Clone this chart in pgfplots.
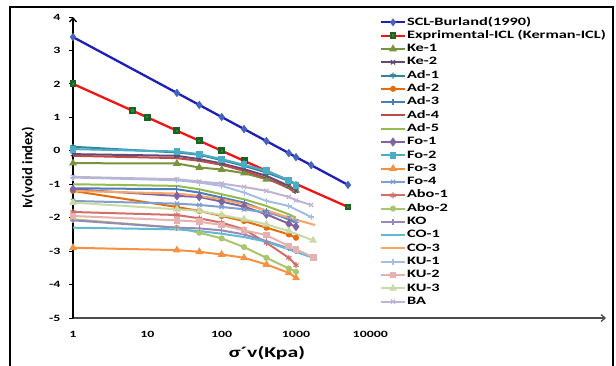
\documentclass[border=0pt]{standalone}
\usepackage{fontspec}
\setmainfont{Carlito}[FakeStretch=1.45]
\newfontfamily\ylabfont{Carlito}
\usepackage{pgfplots}
\pgfplotsset{compat=1.18}
\usetikzlibrary{arrows.meta}
\definecolor{cSCL}{RGB}{30,30,185}
\definecolor{cSCLm}{RGB}{70,100,190}
\definecolor{cEXP}{RGB}{240,20,20}
\definecolor{cEXPm}{RGB}{40,140,50}
\definecolor{cKe1}{RGB}{119,147,60}
\definecolor{cKe2}{RGB}{96,74,123}
\definecolor{cAd1}{RGB}{49,133,156}
\definecolor{cAd2}{RGB}{228,108,10}
\definecolor{cAd3}{RGB}{74,126,187}
\definecolor{cAd4}{RGB}{190,75,72}
\definecolor{cAd5}{RGB}{150,185,80}
\definecolor{cFo1}{RGB}{128,100,162}
\definecolor{cFo2}{RGB}{75,172,198}
\definecolor{cFo3}{RGB}{245,145,65}
\definecolor{cFo4}{RGB}{126,159,207}
\definecolor{cAbo1}{RGB}{210,110,105}
\definecolor{cAbo2}{RGB}{168,198,110}
\definecolor{cKO}{RGB}{155,135,185}
\definecolor{cCO1}{RGB}{95,187,211}
\definecolor{cCO3}{RGB}{249,165,102}
\definecolor{cKU1}{RGB}{165,189,224}
\definecolor{cKU2}{RGB}{230,177,175}
\definecolor{cKU3}{RGB}{201,218,166}
\definecolor{cBA}{RGB}{191,179,212}
\begin{document}
\begin{tikzpicture}[x=1bp,y=1bp]
\useasboundingbox (0,0) rectangle (616,365);
\draw[line width=1.8bp] (10,-5) -- (10,358) -- (613,358) -- (613,-5);
\begin{axis}[
  at={(73bp,47bp)}, anchor=south west, scale only axis,
  width=533bp, height=301bp,
  xmode=log, log basis x=10, xmin=1, xmax=1.48e7, ymin=-5, ymax=4,
  axis lines=left,
  axis line style={line width=1.3bp, -{Straight Barb[length=4bp,width=7bp]}},
  x axis line style={gray!60!black},
  xtick={1,10,100,1000,10000}, xticklabels={1,10,100,1000,10000},
  ytick={-5,-4,-3,-2,-1,0,1,2,3,4}, yticklabels={-5,-4,-3,-2,-1,0,1,2,3,4},
  xtick style={draw=none}, ytick style={black, line width=0.8bp},
  tick align=outside, major tick length=4bp,
  /pgf/number format/assume math mode=true,
  ticklabel style={font=\fontsize{9.6bp}{11bp}\selectfont\bfseries},
  xticklabel style={yshift=-6bp},
  yticklabel style={xshift=-5bp},
  legend cell align=left,
  legend style={at={(0.570,1.0116)}, anchor=north west, draw=none, fill=none,
    font=\fontsize{11.3bp}{13bp}\selectfont\bfseries, row sep=0pt,
    nodes={text height=8bp, text depth=2.6bp, inner ysep=1.35bp, inner xsep=1bp}},
  legend image code/.code={\draw[line width=2bp,mark repeat=2,mark phase=2,#1] plot coordinates {(0bp,0bp) (12bp,0bp) (24bp,0bp)};},
  every axis plot/.append style={line width=2bp, mark size=2.4bp, mark options={solid}},
]
\addplot[cSCL, line width=2.3bp, mark=diamond*, mark size=2.4bp, mark options={fill=cSCLm, draw=cSCLm}] coordinates {(1,3.4) (25,1.73) (50,1.37) (100,1.01) (200,0.65) (400,0.29) (800,-0.07) (1000,-0.19) (1600,-0.43) (5000,-1.02)};
\addlegendentry{SCL-Burland(1990)}
\addplot[cEXP, line width=2.3bp, mark=square*, mark size=2.3bp, mark options={fill=cEXPm, draw=cEXPm!70!black}] coordinates {(1,2.0) (6.3,1.2) (10,1.0) (25,0.6) (50,0.3) (100,0.0) (200,-0.3) (400,-0.6) (5000,-1.68)};
\addlegendentry{Exprimental-ICL (Kerman-ICL)}
\addplot[cKe1, mark=triangle*, mark size=2.6bp] coordinates {(1,-0.37) (25,-0.38) (50,-0.5) (100,-0.56) (200,-0.67) (400,-0.85) (800,-1.05) (1000,-1.18)};
\addlegendentry{Ke-1}
\addplot[cKe2, mark=x, mark size=3bp, mark options={line width=1.1bp}] coordinates {(1,-0.1) (25,-0.15) (50,-0.25) (100,-0.38) (200,-0.55) (400,-0.75) (800,-1.05) (1000,-1.2)};
\addlegendentry{Ke-2}
\addplot[cAd1, mark=asterisk, mark size=3bp, mark options={line width=1.1bp}] coordinates {(1,0.12) (25,-0.05) (50,-0.12) (100,-0.28) (200,-0.45) (400,-0.65) (800,-0.9) (1000,-1.0)};
\addlegendentry{Ad-1}
\addplot[cAd2, mark=*, mark size=2bp] coordinates {(1,-1.2) (25,-1.68) (50,-1.8) (100,-1.95) (200,-2.1) (400,-2.3) (800,-2.5) (1000,-2.6)};
\addlegendentry{Ad-2}
\addplot[cAd3, mark=+, mark size=3bp, mark options={line width=1.1bp}] coordinates {(1,-1.12) (25,-1.15) (50,-1.25) (100,-1.4) (200,-1.55) (400,-1.8) (800,-2.05) (1000,-2.15)};
\addlegendentry{Ad-3}
\addplot[cAd4, mark=none] coordinates {(1,-0.15) (25,-0.22) (50,-0.3) (100,-0.42) (200,-0.6) (400,-0.82) (800,-1.12) (1000,-1.27)};
\addlegendentry{Ad-4}
\addplot[cAd5, mark=none] coordinates {(1,-1.0) (25,-1.05) (50,-1.15) (100,-1.3) (200,-1.45) (400,-1.65) (800,-1.9) (1000,-2.0)};
\addlegendentry{Ad-5}
\addplot[cFo1, mark=diamond*, mark size=3bp] coordinates {(1,-1.15) (25,-1.35) (50,-1.38) (100,-1.52) (200,-1.67) (400,-1.9) (800,-2.18) (1000,-2.27)};
\addlegendentry{Fo-1}
\addplot[cFo2, mark=square*, mark size=2.4bp] coordinates {(1,0.05) (25,-0.02) (50,-0.1) (100,-0.25) (200,-0.42) (400,-0.6) (800,-0.88) (1000,-1.03)};
\addlegendentry{Fo-2}
\addplot[cFo3, mark=triangle*, mark size=2.6bp] coordinates {(1,-2.9) (25,-2.97) (50,-3.02) (100,-3.1) (200,-3.2) (400,-3.4) (800,-3.65) (1000,-3.8)};
\addlegendentry{Fo-3}
\addplot[cFo4, mark=x, mark size=3bp, mark options={line width=1.1bp}] coordinates {(1,-1.5) (25,-1.58) (50,-1.62) (100,-1.68) (200,-1.75) (400,-1.85) (800,-2.0) (1000,-2.1)};
\addlegendentry{Fo-4}
\addplot[cAbo1, mark=asterisk, mark size=3bp, mark options={line width=1.1bp}] coordinates {(1,-1.83) (25,-1.92) (50,-2.02) (100,-2.15) (200,-2.35) (400,-2.75) (800,-3.2) (1000,-3.42)};
\addlegendentry{Abo-1}
\addplot[cAbo2, mark=*, mark size=2bp] coordinates {(1,-2.05) (25,-2.3) (50,-2.45) (100,-2.62) (200,-2.88) (400,-3.2) (800,-3.52) (1000,-3.62)};
\addlegendentry{Abo-2}
\addplot[cKO, mark=+, mark size=3bp, mark options={line width=1.1bp}] coordinates {(1,-2.08) (25,-2.3) (50,-2.32) (100,-2.38) (200,-2.5) (400,-2.7) (800,-2.92) (1000,-3.0)};
\addlegendentry{KO}
\addplot[cCO1, mark=none] coordinates {(1,-2.3) (25,-2.35) (50,-2.4) (100,-2.48) (200,-2.58) (400,-2.72) (800,-2.95) (1700,-3.2)};
\addlegendentry{CO-1}
\addplot[cCO3, mark=none] coordinates {(1,-1.2) (25,-1.28) (50,-1.35) (100,-1.45) (200,-1.6) (400,-1.78) (800,-2.0) (1800,-2.22)};
\addlegendentry{CO-3}
\addplot[cKU1, mark=+, mark size=3bp, mark options={line width=1.1bp}] coordinates {(1,-0.8) (25,-0.88) (50,-0.95) (100,-1.05) (200,-1.25) (400,-1.5) (800,-1.65) (1600,-1.98)};
\addlegendentry{KU-1}
\addplot[cKU2, mark=square*, mark size=2.4bp] coordinates {(1,-1.95) (25,-2.08) (50,-2.12) (100,-2.22) (200,-2.38) (400,-2.52) (800,-2.85) (1000,-2.95) (1700,-3.18)};
\addlegendentry{KU-2}
\addplot[cKU3, mark=triangle*, mark size=2.6bp] coordinates {(1,-1.55) (25,-1.75) (50,-1.8) (100,-1.92) (200,-2.05) (400,-2.2) (800,-2.4) (1700,-2.68)};
\addlegendentry{KU-3}
\addplot[cBA, mark=x, mark size=3bp, mark options={line width=1.1bp}] coordinates {(1,-0.78) (25,-0.85) (50,-0.92) (100,-0.98) (200,-1.08) (400,-1.2) (800,-1.38) (1000,-1.48) (1600,-1.62)};
\addlegendentry{BA}
\end{axis}
\node[font=\fontsize{15bp}{18bp}\selectfont\bfseries] at (267,12) {σ´v(Kpa)};
\node[font=\ylabfont\fontsize{14.5bp}{17bp}\selectfont\bfseries, rotate=90] at (28,197) {Iv(void index)};
\end{tikzpicture}
\end{document}
